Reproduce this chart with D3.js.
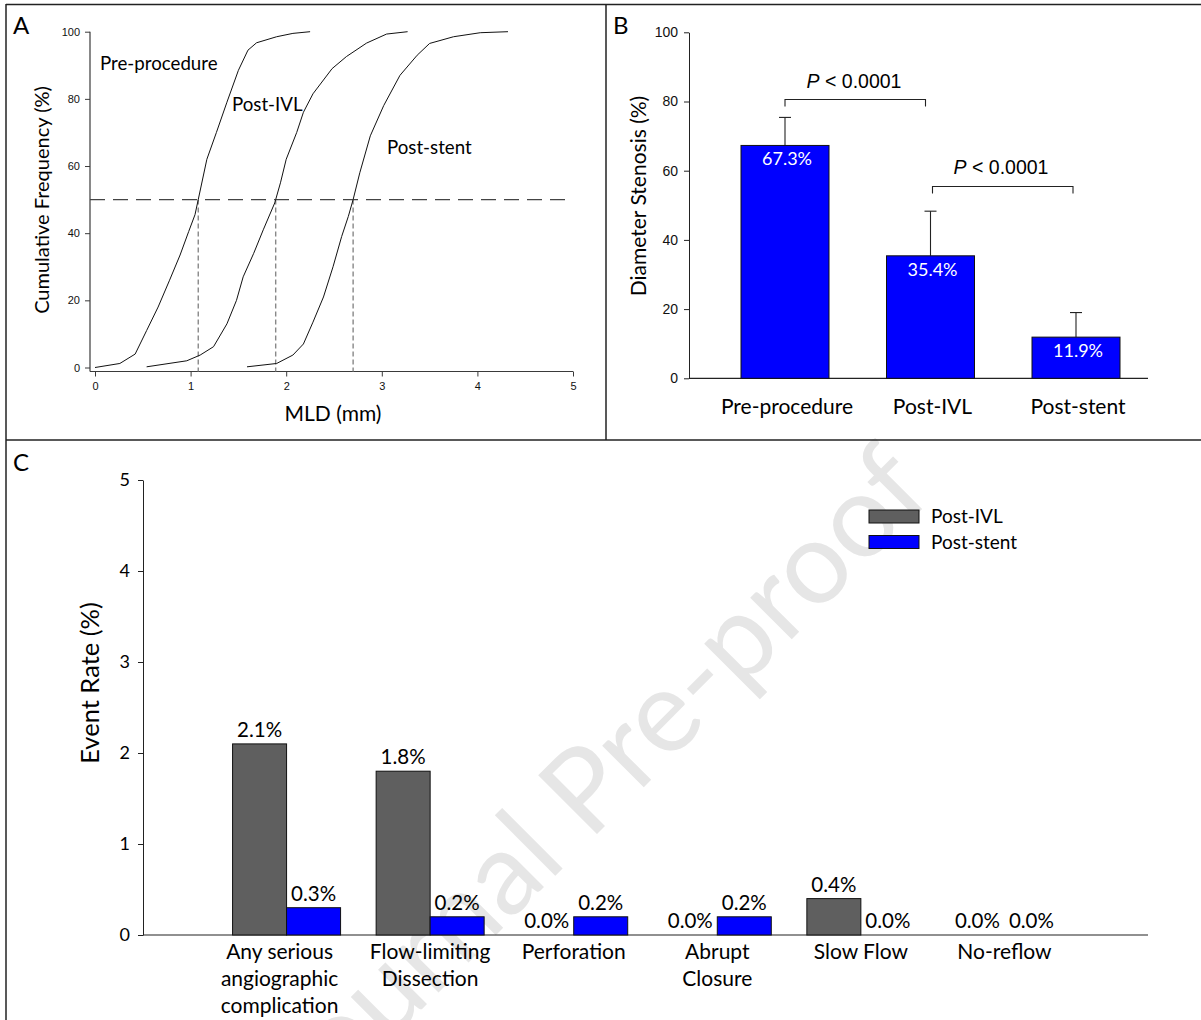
<!DOCTYPE html>
<html>
<head>
<meta charset="utf-8">
<script src="https://cdn.jsdelivr.net/npm/d3@7"></script>
<style>
  html, body { margin: 0; padding: 0; background: #fff; }
  svg { display: block; }
</style>
</head>
<body>
<svg id="fig" width="1201" height="1020"></svg>
<script>
// ---------- Panel A: cumulative MLD distributions ----------
const mldTicks = [0, 1, 2, 3, 4, 5];
const freqTicks = [0, 20, 40, 60, 80, 100];
const curveNames = ["Pre-procedure", "Post-IVL", "Post-stent"];
const preProcedureCdf = [[0,0],[0.26,1.2],[0.42,4],[0.54,11],[0.66,18],[0.78,26],[0.89,33.5],[0.98,40.5],[1.046,45.5],[1.08,50],[1.17,62],[1.27,70],[1.38,79],[1.5,88.5],[1.6,94.5],[1.69,96.7],[1.9,98.5],[2.07,99.5],[2.25,100]];
const postIvlCdf = [[0.54,0.2],[0.96,2],[1.1,3.7],[1.24,6.2],[1.38,13],[1.48,20],[1.55,27],[1.66,34],[1.76,41],[1.88,49],[1.89,50],[1.94,55],[2.0,62],[2.11,70],[2.18,76],[2.28,81.5],[2.48,89],[2.63,92.6],[2.84,96.6],[3.05,99.3],[3.27,100]];
const postStentCdf = [[1.59,0.2],[1.9,1.2],[2.07,3.7],[2.18,7],[2.28,13.5],[2.39,21],[2.49,30],[2.58,39],[2.65,45],[2.7,50],[2.77,58],[2.88,69],[3.02,78],[3.19,87],[3.37,93],[3.5,96.5],[3.75,98.5],[4.03,99.7],[4.32,100]];
const medianMld = [1.08, 1.89, 2.70];

// ---------- Panel B: diameter stenosis ----------
const stenosisGroups = ["Pre-procedure", "Post-IVL", "Post-stent"];
const stenosisMean = [67.3, 35.4, 11.9];
const stenosisUpper = [75.4, 48.3, 19.0];
const stenosisTicks = [0, 20, 40, 60, 80, 100];
const pLabels = ["< 0.0001", "< 0.0001"];

// ---------- Panel C: angiographic complications ----------
const eventCategories = [
  ["Any serious", "angiographic", "complication"],
  ["Flow-limiting", "Dissection"],
  ["Perforation"],
  ["Abrupt", "Closure"],
  ["Slow Flow"],
  ["No-reflow"]
];
const eventSeries = ["Post-IVL", "Post-stent"];
const postIvlRate = [2.1, 1.8, 0.0, 0.0, 0.4, 0.0];
const postStentRate = [0.3, 0.2, 0.2, 0.2, 0.0, 0.0];
const rateTicks = [0, 1, 2, 3, 4, 5];

const svg = d3.select("#fig");
const CAL = "Lato, 'Open Sans', sans-serif";
const ARIAL = "'Liberation Sans', Arial, sans-serif";
const intFmt = d3.format("d");

// watermark behind everything
svg.append("text")
  .attr("transform", "translate(935,496) rotate(-45)")
  .attr("text-anchor", "end")
  .attr("font-family", CAL)
  .attr("font-size", 116)
  .attr("fill", "#e6e6e6")
  .text("Journal Pre-proof");

// panel frame lines
const frame = svg.append("g").attr("stroke", "#222").attr("stroke-width", 1.5).attr("fill", "none");
frame.append("line").attr("x1", 6).attr("x2", 1201).attr("y1", 4.5).attr("y2", 4.5);
frame.append("line").attr("x1", 6).attr("x2", 6).attr("y1", 4).attr("y2", 1020);
frame.append("line").attr("x1", 606).attr("x2", 606).attr("y1", 4).attr("y2", 440);
frame.append("line").attr("x1", 6).attr("x2", 1201).attr("y1", 440).attr("y2", 440);

function panelLetter(x, y, t) {
  svg.append("text").attr("x", x).attr("y", y)
    .attr("font-family", CAL).attr("font-size", 24).attr("fill", "#000").text(t);
}
panelLetter(13, 34, "A");
panelLetter(613, 34, "B");
panelLetter(13, 471, "C");

// ================= Panel A =================
(function () {
  const x = d3.scaleLinear().domain([0, 5]).range([95, 573]);
  const y = d3.scaleLinear().domain([0, 100]).range([367.5, 31.7]);
  const g = svg.append("g");
  const axisColor = "#3a3a3a";

  const yAxis = g.append("g").attr("transform", "translate(90,0)")
    .call(d3.axisLeft(y).tickValues(freqTicks).tickFormat(intFmt).tickSize(5).tickSizeOuter(0).tickPadding(5));
  yAxis.select(".domain").remove();
  g.append("line").attr("x1", 90).attr("x2", 90).attr("y1", y(100)).attr("y2", 371.5)
    .attr("stroke", axisColor).attr("stroke-width", 1.2);

  const xAxis = g.append("g").attr("transform", "translate(0,371.5)")
    .call(d3.axisBottom(x).tickValues(mldTicks).tickFormat(intFmt).tickSize(5).tickSizeOuter(0).tickPadding(6));
  xAxis.select(".domain").remove();
  g.append("line").attr("x1", 90).attr("x2", x(5)).attr("y1", 371.5).attr("y2", 371.5)
    .attr("stroke", axisColor).attr("stroke-width", 1.2);

  [yAxis, xAxis].forEach(a => {
    a.selectAll(".tick line").attr("stroke", axisColor);
    a.selectAll(".tick text").attr("font-family", ARIAL).attr("font-size", 11).attr("fill", "#111");
  });

  // 50% reference line
  g.append("line").attr("x1", 90).attr("x2", 567).attr("y1", y(50)).attr("y2", y(50))
    .attr("stroke", "#444").attr("stroke-width", 1.2).attr("stroke-dasharray", "15,8");
  // median drop lines
  g.selectAll(".median").data(medianMld).join("line")
    .attr("x1", d => x(d)).attr("x2", d => x(d))
    .attr("y1", y(50)).attr("y2", 371.5)
    .attr("stroke", "#888").attr("stroke-width", 1.4).attr("stroke-dasharray", "5,3");

  const line = d3.line().x(d => x(d[0])).y(d => y(d[1]));
  g.selectAll(".cdf").data([preProcedureCdf, postIvlCdf, postStentCdf]).join("path")
    .attr("d", line).attr("fill", "none").attr("stroke", "#111").attr("stroke-width", 1);

  const labelPos = [[100, 70], [232, 111], [387, 154]];
  g.selectAll(".clab").data(curveNames).join("text")
    .attr("x", (d, i) => labelPos[i][0]).attr("y", (d, i) => labelPos[i][1])
    .attr("font-family", CAL).attr("font-size", 18.7).attr("fill", "#000").text(d => d);

  g.append("text").attr("transform", "translate(49,200) rotate(-90)")
    .attr("text-anchor", "middle").attr("font-family", CAL).attr("font-size", 20)
    .text("Cumulative Frequency (%)");
  g.append("text").attr("x", 333).attr("y", 421).attr("text-anchor", "middle")
    .attr("font-family", CAL).attr("font-size", 21).text("MLD (mm)");
})();

// ================= Panel B =================
(function () {
  const y = d3.scaleLinear().domain([0, 100]).range([378.3, 32.3]);
  const x = d3.scalePoint().domain(stenosisGroups).range([785, 1076]);
  const bw = 88;
  const g = svg.append("g");

  const yAxis = g.append("g").attr("transform", "translate(689,0)")
    .call(d3.axisLeft(y).tickValues(stenosisTicks).tickFormat(intFmt).tickSize(5).tickSizeOuter(0).tickPadding(6));
  yAxis.select(".domain").attr("stroke", "#222");
  yAxis.selectAll(".tick line").attr("stroke", "#222");
  yAxis.selectAll(".tick text").attr("font-family", ARIAL).attr("font-size", 14).attr("fill", "#111");
  g.append("line").attr("x1", 689).attr("x2", 1148).attr("y1", y(0)).attr("y2", y(0))
    .attr("stroke", "#222").attr("stroke-width", 1.2);

  // error whiskers
  g.selectAll(".err").data(stenosisGroups).join("line")
    .attr("x1", d => x(d)).attr("x2", d => x(d))
    .attr("y1", (d, i) => y(stenosisMean[i])).attr("y2", (d, i) => y(stenosisUpper[i]))
    .attr("stroke", "#222").attr("stroke-width", 1.1);
  g.selectAll(".cap").data(stenosisGroups).join("line")
    .attr("x1", d => x(d) - 6).attr("x2", d => x(d) + 6)
    .attr("y1", (d, i) => y(stenosisUpper[i])).attr("y2", (d, i) => y(stenosisUpper[i]))
    .attr("stroke", "#222").attr("stroke-width", 1.1);

  g.selectAll(".bar").data(stenosisGroups).join("rect")
    .attr("x", d => x(d) - bw / 2).attr("width", bw)
    .attr("y", (d, i) => y(stenosisMean[i])).attr("height", (d, i) => y(0) - y(stenosisMean[i]))
    .attr("fill", "#0000ff").attr("stroke", "#111").attr("stroke-width", 1);

  g.selectAll(".val").data(stenosisGroups).join("text")
    .attr("x", d => x(d) + 2).attr("y", (d, i) => y(stenosisMean[i]) + 20)
    .attr("text-anchor", "middle").attr("font-family", CAL).attr("font-size", 18)
    .attr("fill", "#fff").text((d, i) => stenosisMean[i].toFixed(1) + "%");

  g.selectAll(".cat").data(stenosisGroups).join("text")
    .attr("x", d => x(d) + 2).attr("y", 414).attr("text-anchor", "middle")
    .attr("font-family", CAL).attr("font-size", 21).attr("fill", "#000").text(d => d);

  g.append("text").attr("transform", "translate(646,196) rotate(-90)")
    .attr("text-anchor", "middle").attr("font-family", CAL).attr("font-size", 21)
    .text("Diameter Stenosis (%)");

  // significance brackets
  const brackets = [
    { x1: x(stenosisGroups[0]), x2: x(stenosisGroups[1]) - 5, yTop: 99.5, tx: 854, ty: 88 },
    { x1: x(stenosisGroups[1]) + 2, x2: x(stenosisGroups[2]) - 3, yTop: 186.5, tx: 1001, ty: 174 }
  ];
  brackets.forEach((b, i) => {
    g.append("path")
      .attr("d", `M${b.x1},${b.yTop + 7}V${b.yTop}H${b.x2}V${b.yTop + 7}`)
      .attr("fill", "none").attr("stroke", "#222").attr("stroke-width", 1.1);
    const t = g.append("text").attr("x", b.tx).attr("y", b.ty).attr("text-anchor", "middle")
      .attr("font-family", ARIAL).attr("font-size", 19.5).attr("fill", "#000");
    t.append("tspan").attr("font-style", "italic").text("P");
    t.append("tspan").text(" " + pLabels[i]);
  });
})();

// ================= Panel C =================
(function () {
  const y = d3.scaleLinear().domain([0, 5]).range([935, 480]);
  const x = d3.scaleLinear().domain([0, eventCategories.length + 1]).range([143, 1148]);
  const bw = 54;
  const g = svg.append("g");

  const yAxis = g.append("g").attr("transform", "translate(143,0)")
    .call(d3.axisLeft(y).tickValues(rateTicks).tickFormat(intFmt).tickSize(5).tickSizeOuter(0).tickPadding(8));
  yAxis.select(".domain").attr("stroke", "#222");
  yAxis.selectAll(".tick line").attr("stroke", "#222");
  yAxis.selectAll(".tick text").attr("font-family", CAL).attr("font-size", 18).attr("fill", "#000");
  g.append("line").attr("x1", 143).attr("x2", 1148).attr("y1", y(0)).attr("y2", y(0))
    .attr("stroke", "#222").attr("stroke-width", 1.2);

  const series = [
    { name: eventSeries[0], values: postIvlRate, fill: "#5f5f5f", off: -bw },
    { name: eventSeries[1], values: postStentRate, fill: "#0000ff", off: 0 }
  ];
  series.forEach(s => {
    g.selectAll(null).data(s.values).join("rect")
      .attr("x", (d, i) => x(i + 1) + s.off).attr("width", bw)
      .attr("y", d => y(d)).attr("height", d => Math.max(y(0) - y(d), 0))
      .attr("fill", s.fill).attr("stroke", "#111").attr("stroke-width", d => d > 0 ? 1 : 1.6);
    g.selectAll(null).data(s.values).join("text")
      .attr("x", (d, i) => x(i + 1) + s.off + bw / 2).attr("y", d => y(d) - 7)
      .attr("text-anchor", "middle").attr("font-family", CAL).attr("font-size", 20.5)
      .attr("fill", "#000").text(d => d.toFixed(1) + "%");
  });

  eventCategories.forEach((lines, i) => {
    const t = g.append("text").attr("text-anchor", "middle")
      .attr("font-family", CAL).attr("font-size", 21).attr("fill", "#000");
    lines.forEach((ln, j) => {
      t.append("tspan").attr("x", x(i + 1) + (i === 0 ? -7 : 0)).attr("y", 959 + j * 27).text(ln);
    });
  });

  g.append("text").attr("transform", "translate(99,683) rotate(-90)")
    .attr("text-anchor", "middle").attr("font-family", CAL).attr("font-size", 25.5)
    .text("Event Rate (%)");

  // legend
  const lg = g.append("g").attr("transform", "translate(869,510)");
  series.forEach((s, i) => {
    lg.append("rect").attr("x", 0).attr("y", i * 25.5).attr("width", 50).attr("height", 13)
      .attr("fill", s.fill).attr("stroke", "#111").attr("stroke-width", 1);
    lg.append("text").attr("x", 62).attr("y", i * 25.5 + 13).attr("font-family", CAL)
      .attr("font-size", 19).attr("fill", "#000").text(s.name);
  });
})();
</script>
</body>
</html>
